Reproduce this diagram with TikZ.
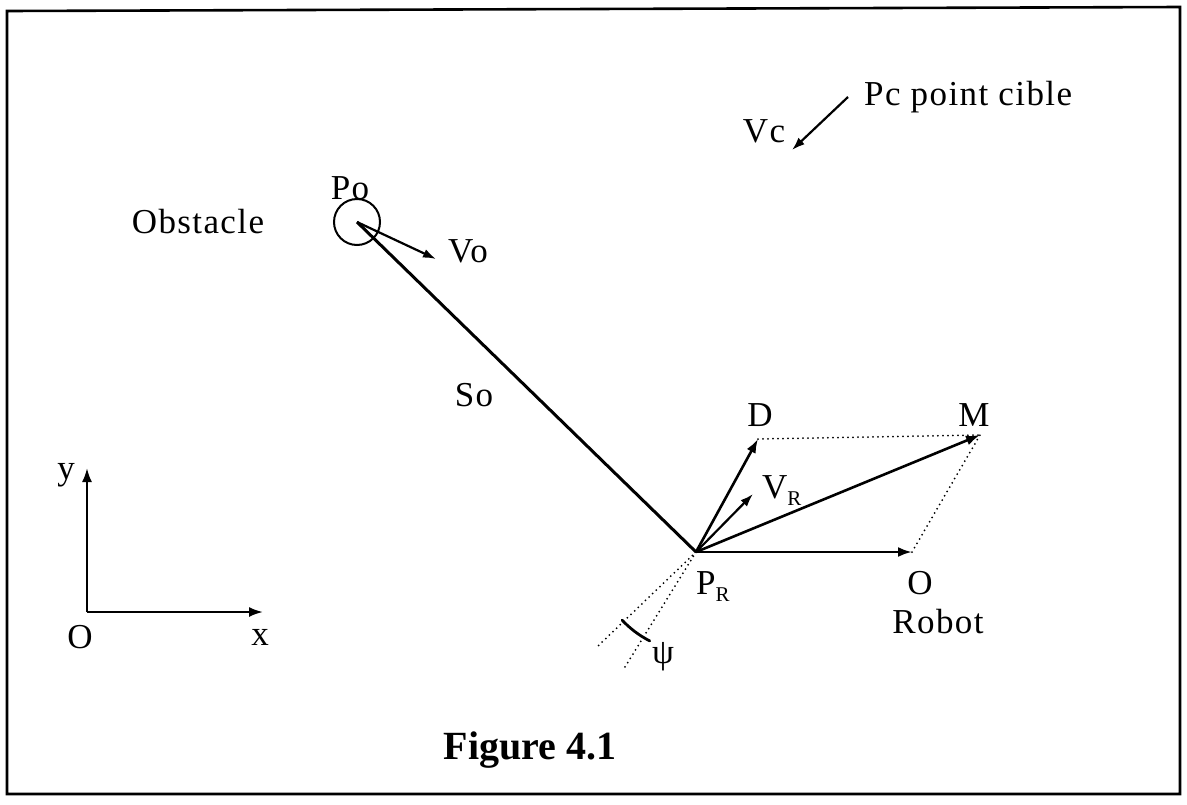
\documentclass[tikz,border=0pt]{standalone}
\usepackage{fontspec}
\setmainfont{Liberation Serif}
\usetikzlibrary{arrows.meta,calc}
\begin{document}
\begin{tikzpicture}[x=1pt,y=-1pt,
  lbl/.style={inner sep=0pt,font=\fontsize{35}{40}\selectfont\addfontfeature{LetterSpace=4}},
  vec/.style={line width=2.6pt,-{Latex[length=14pt,width=10pt]}},
  thin vec/.style={line width=2.2pt,-{Latex[length=13pt,width=9pt]}},
  guide/.style={line width=2pt,line cap=round,dash pattern=on 0pt off 5pt},
  axis/.style={line width=2.2pt,-{Latex[length=14pt,width=10pt]}}]
\useasboundingbox (0,0) rectangle (1187,804);
% frame
\draw[line width=2.6pt] (7,11) -- (1180,7) -- (1180,794) -- (7,794) -- cycle;

% key points
\coordinate (PR) at (696,552);
\coordinate (Dt) at (758,439);
\coordinate (VRt) at (753,494);
\coordinate (Mt) at (980,435);
\coordinate (Ot) at (912,552);
\coordinate (Po) at (357,222);
\coordinate (Vot) at (436,259);
\coordinate (Vcs) at (848,97);
\coordinate (Vct) at (792,150);
\coordinate (Ps1) at (598,646);
\coordinate (Ps2) at (625,667);
\coordinate (Or) at (87,612);
\coordinate (Yt) at (87,468);
\coordinate (Xt) at (263,612);

% obstacle
\node[circle,draw,line width=2pt,minimum size=46pt,inner sep=0pt] (circ) at (Po) {};
\draw[line width=3pt] (Po) -- (PR);
\draw[thin vec] (Po) -- (Vot);

% robot vectors
\draw[vec] (PR) -- (Dt);
\draw[thin vec] (PR) -- (VRt);
\draw[vec] (PR) -- (Mt);
\draw[vec] (PR) -- (Ot);
\draw[guide] (Dt) -- (Mt);
\draw[guide] (Ot) -- (Mt);

% psi
\draw[guide] (PR) -- (Ps1);
\draw[guide] (PR) -- (Ps2);
\draw[line width=2.8pt,line cap=round] ($(PR)+(-74,68)$) arc[start angle=137,end angle=117,radius=100];

% target
\draw[thin vec] (Vcs) -- (Vct);

% axes
\draw[axis] (Or) -- (Yt);
\draw[axis] (Or) -- (Xt);

% labels
\node[lbl,anchor=west] (pc) at (864,97) {Pc point cible};
\node[lbl] (vc) at (764,131) {Vc};
\node[lbl] (pol) at (350,188) {Po};
\node[lbl] (obs) at (198,222) {Obstacle};
\node[lbl] (vol) at (468,251) {Vo};
\node[lbl] (sol) at (474,395) {So};
\node[lbl] (dl) at (760,415) {D};
\node[lbl] (ml) at (974,415) {M};
\node[lbl,anchor=west] (vrl) at (762,491) {V\raisebox{-7pt}{\fontsize{21}{21}\selectfont R}};
\node[lbl,anchor=west] (prl) at (696,587) {P\raisebox{-7pt}{\fontsize{21}{21}\selectfont R}};
\node[lbl] (ol) at (920,583) {O};
\node[lbl] (rl) at (938,622) {Robot};
\node[lbl] (psil) at (663,657) {ψ};
\node[lbl] (yl) at (66,475) {y};
\node[lbl] (orl) at (80,637) {O};
\node[lbl] (xl) at (260,637) {x};
\node[inner sep=0pt,font=\fontsize{40}{44}\selectfont\bfseries] (fig) at (530,750) {Figure 4.1};
\end{tikzpicture}
\end{document}
